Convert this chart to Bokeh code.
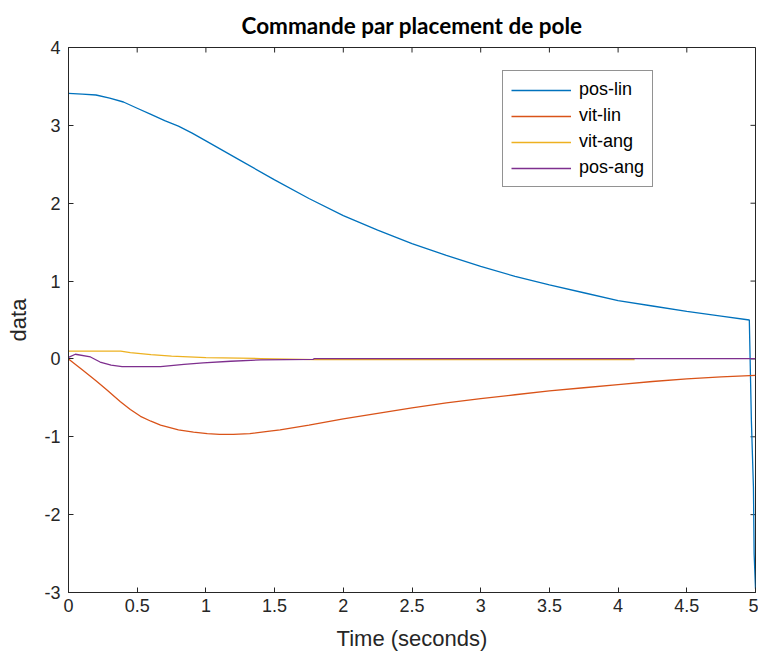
import math
from bokeh.plotting import figure
from bokeh.models import Range1d, Legend, LegendItem, FixedTicker
from bokeh.embed import file_html
from bokeh.resources import INLINE

# ---- data ----
t_poslin = [0, 0.1, 0.2, 0.3, 0.4, 0.5, 0.6, 0.7, 0.8, 0.9, 1.0, 1.25, 1.5, 1.75, 2.0,
            2.25, 2.5, 2.75, 3.0, 3.25, 3.5, 3.75, 4.0, 4.25, 4.5, 4.75, 4.955, 4.96,
            4.97, 4.985, 4.99, 5.0]
poslin = [3.41, 3.40, 3.39, 3.35, 3.30, 3.22, 3.14, 3.06, 2.99, 2.90, 2.80, 2.55, 2.30,
          2.06, 1.84, 1.655, 1.48, 1.33, 1.19, 1.06, 0.95, 0.85, 0.75, 0.68, 0.61, 0.55,
          0.50, 0.07, -0.79, -1.65, -2.5, -2.95]

t_vitlin = [0, 0.1, 0.2, 0.28, 0.378, 0.45, 0.524, 0.6, 0.67, 0.8, 0.91, 1.01, 1.1, 1.2,
            1.32, 1.45, 1.54, 1.75, 2.0, 2.25, 2.5, 2.75, 3.0, 3.25, 3.5, 3.75, 4.0, 4.25,
            4.5, 4.75, 5.0]
vitlin = [0, -0.14, -0.28, -0.40, -0.55, -0.65, -0.737, -0.80, -0.85, -0.91, -0.94, -0.96,
          -0.97, -0.97, -0.96, -0.93, -0.91, -0.85, -0.77, -0.70, -0.63, -0.565, -0.51,
          -0.46, -0.41, -0.37, -0.33, -0.29, -0.255, -0.23, -0.21]

t_vitang = [0, 0.38, 0.45, 0.6, 0.75, 1.0, 1.4, 1.8, 2.5, 3.0, 3.5, 4.12]
vitang = [0.10, 0.10, 0.08, 0.055, 0.035, 0.018, 0.005, -0.008, -0.01, -0.01, -0.01, -0.01]

t_posang = [0, 0.05, 0.16, 0.23, 0.31, 0.39, 0.67, 0.84, 0.98, 1.18, 1.4, 1.78, 1.79, 5.0]
posang = [0.02, 0.06, 0.025, -0.04, -0.08, -0.10, -0.10, -0.07, -0.05, -0.03, -0.012,
          -0.005, 0.005, 0.005]

labels = ["pos-lin", "vit-lin", "vit-ang", "pos-ang"]
colors = ["#0072BD", "#D95319", "#EDB120", "#7E2F8E"]

x_ticks = [0, 0.5, 1, 1.5, 2, 2.5, 3, 3.5, 4, 4.5, 5]
y_ticks = [-3, -2, -1, 0, 1, 2, 3, 4]
X_MIN, X_MAX = 0, 5
Y_MIN, Y_MAX = -3, 4
TITLE = "Commande par placement de pole"

AX = "#262626"

p = figure(width=758, height=657, output_backend="svg", toolbar_location=None,
           x_range=Range1d(X_MIN, X_MAX), y_range=Range1d(Y_MIN, Y_MAX),
           min_border_left=68, min_border_right=3, min_border_bottom=65, min_border_top=47,
           title=TITLE)
p.title.align = "center"
p.title.text_font = "Lato"
p.title.text_font_size = "22.5px"
p.title.text_font_style = "bold"
p.title.text_color = "#000000"
p.title.offset = 9
p.title.standoff = 18

p.grid.visible = False
p.outline_line_color = AX
p.outline_line_width = 1
p.background_fill_color = "white"
p.border_fill_color = "white"

for ax in [p.xaxis[0], p.yaxis[0]]:
    ax.axis_line_color = AX
    ax.major_tick_line_color = AX
    ax.major_tick_in = 5
    ax.major_tick_out = 0
    ax.minor_tick_line_color = None
    ax.major_label_text_font = "Liberation Sans"
    ax.major_label_text_font_size = "18px"
    ax.major_label_text_color = AX
    ax.axis_label_text_font = "Liberation Sans"
    ax.axis_label_text_font_size = "22px"
    ax.axis_label_text_font_style = "normal"
    ax.axis_label_text_color = AX

p.xaxis[0].ticker = FixedTicker(ticks=x_ticks)
p.yaxis[0].ticker = FixedTicker(ticks=y_ticks)
p.xaxis[0].axis_label = "Time (seconds)"
p.yaxis[0].axis_label = "data"
p.xaxis[0].major_label_standoff = 6
p.yaxis[0].major_label_standoff = 8
p.xaxis[0].axis_label_standoff = 11
p.yaxis[0].axis_label_standoff = 10
p.xaxis[0].major_label_overrides = {t: ("%g" % t) for t in x_ticks}
p.yaxis[0].major_label_overrides = {t: ("%g" % t) for t in y_ticks}

# MATLAB-style inward ticks on top and right edges of the box
p.ray(x=x_ticks, y=[Y_MAX] * len(x_ticks), length=5, length_units="screen",
      angle=-math.pi / 2, line_color=AX, line_width=1)
p.ray(x=[X_MAX] * len(y_ticks), y=y_ticks, length=5, length_units="screen",
      angle=math.pi, line_color=AX, line_width=1)

xs = [t_poslin, t_vitlin, t_vitang, t_posang]
ys = [poslin, vitlin, vitang, posang]
renderers = []
for x, y, c in zip(xs, ys, colors):
    r = p.line(x, y, line_color=c, line_width=1.3)
    renderers.append(r)

legend = Legend(items=[LegendItem(label=l, renderers=[r]) for l, r in zip(labels, renderers)],
                location=(434, 405))
legend.label_text_font = "Liberation Sans"
legend.label_text_font_size = "18px"
legend.label_text_color = "#000000"
legend.glyph_width = 60
legend.glyph_height = 20
legend.label_height = 20
legend.spacing = 5
legend.padding = 8
legend.margin = 0
legend.label_standoff = 8
legend.border_line_color = AX
legend.border_line_width = 1
legend.background_fill_color = "white"
legend.background_fill_alpha = 1
p.add_layout(legend, "center")

with open("out.html", "w") as f:
    f.write(file_html(p, INLINE))
